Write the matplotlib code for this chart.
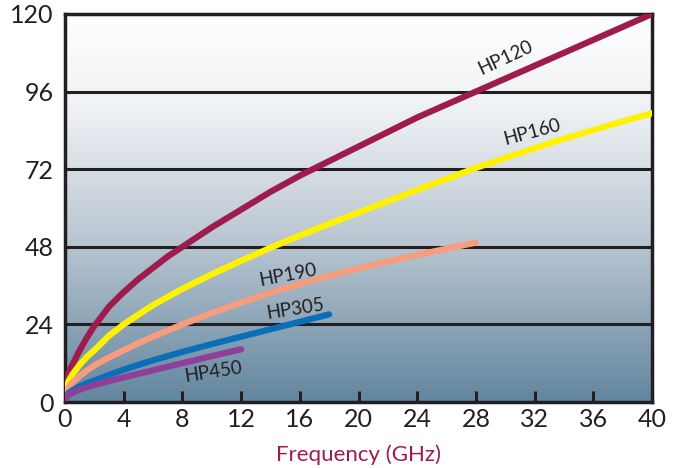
import numpy as np
import matplotlib
matplotlib.use("Agg")
import matplotlib.pyplot as plt
from matplotlib.colors import LinearSegmentedColormap

plt.rcParams['font.family'] = ['Lato', 'DejaVu Sans']

# attenuation curves
freq_hp120 = [0.05, 0.25, 0.5, 1, 1.5, 2, 3, 4, 5, 6, 7, 8, 10, 12, 14, 16, 18, 20,
              22, 24, 26, 28, 30, 32, 34, 36, 38, 40]
att_hp120 = [5, 9, 11.5, 16, 20, 23.5, 29.5, 34, 38, 41.5, 45, 48, 54, 59.5, 65, 70,
             74.5, 79, 83.5, 88, 92, 96, 100, 104, 108, 112, 116, 120]

freq_hp160 = [0.05, 0.25, 0.5, 1, 1.5, 2, 3, 4, 5, 6, 7, 8, 10, 12, 14, 16, 18, 20,
              22, 24, 26, 28, 30, 32, 34, 36, 38, 40]
att_hp160 = [3.5, 6.5, 8.5, 11.5, 14, 16, 20.5, 24, 27, 30, 32.5, 35, 39.5, 43.7, 47.7,
             51.5, 55.1, 58.6, 62.1, 65.6, 69, 72.4, 75.5, 78.5, 81.4, 84.1, 86.8, 89.3]

freq_hp190 = [0.05, 0.25, 0.5, 1, 1.5, 2, 3, 4, 5, 6, 7, 8, 10, 12, 14, 16, 18, 20,
              22, 24, 26, 28]
att_hp190 = [2.5, 4.5, 6, 8, 9.8, 11.3, 13.8, 16, 18.2, 20.2, 22.1, 24, 27.5, 30.8,
             33.8, 36.5, 39, 41.3, 43.5, 45.5, 47.4, 49.3]

freq_hp305 = [0.05, 0.25, 0.5, 1, 1.5, 2, 3, 4, 5, 6, 7, 8, 10, 12, 14, 16, 18]
att_hp305 = [1.5, 2.8, 3.6, 4.8, 5.8, 6.6, 8.4, 10, 11.5, 12.9, 14.2, 15.5, 17.9,
             20.2, 22.5, 24.8, 27.1]

freq_hp450 = [0.05, 0.25, 0.5, 1, 1.5, 2, 3, 4, 5, 6, 7, 8, 10, 12]
att_hp450 = [1.2, 2.2, 2.9, 3.8, 4.6, 5.3, 6.5, 7.6, 8.7, 9.8, 10.9, 12, 14.2, 16.3]

series = [
    ("HP120", freq_hp120, att_hp120, "#9e1c4c"),
    ("HP160", freq_hp160, att_hp160, "#fff200"),
    ("HP190", freq_hp190, att_hp190, "#f89c7e"),
    ("HP305", freq_hp305, att_hp305, "#0b6fb8"),
    ("HP450", freq_hp450, att_hp450, "#8e3f99"),
]

# label placement (x, y, rotation)
labels = {
    "HP120": (30.0, 106.5, 25),
    "HP160": (31.8, 83.5, 15),
    "HP190": (15.2, 39.3, 11),
    "HP305": (15.7, 28.8, 9),
    "HP450": (10.1, 9.3, 9),
}

x_ticks = np.arange(0, 41, 4)
y_ticks = [0, 24, 48, 72, 96, 120]

fig = plt.figure(figsize=(6.81, 4.68), dpi=100)
ax = fig.add_axes([65 / 681, 66 / 468, 587 / 681, 388 / 468])

# vertical background gradient, white at the top
bg = LinearSegmentedColormap.from_list(
    "bg", [(0.0, "#ffffff"), (0.25, "#eef1f4"), (0.6, "#b7c4d0"), (1.0, "#62869f")])
grad = np.linspace(0, 1, 256).reshape(-1, 1)
ax.imshow(grad, cmap=bg, aspect="auto", extent=[0, 40, 0, 120], origin="upper", zorder=0)

for y in y_ticks[1:-1]:
    ax.axhline(y, color="#231f20", lw=2.2, zorder=1)

for name, f, a, col in series:
    ax.plot(f, a, color=col, lw=4.5, solid_capstyle="round", solid_joinstyle="round",
            zorder=3)
    lx, ly, rot = labels[name]
    ax.text(lx, ly, name, rotation=rot, fontsize=13.5, color="#231f20",
            ha="center", va="center", zorder=4)

ax.set_xlim(0, 40)
ax.set_ylim(0, 120)
ax.set_xticks(x_ticks)
ax.set_yticks(y_ticks)
ax.tick_params(axis="x", direction="in", length=8, width=2.2, colors="#231f20",
               labelsize=18, pad=4)
ax.tick_params(axis="y", length=0, labelsize=18, colors="#231f20", pad=8)
for sp in ax.spines.values():
    sp.set_linewidth(2.5)
    sp.set_color("#231f20")

ax.set_xlabel("Frequency (GHz)", color="#9e1c4c", fontsize=16, labelpad=10)

fig.savefig("out.png", dpi=100)
